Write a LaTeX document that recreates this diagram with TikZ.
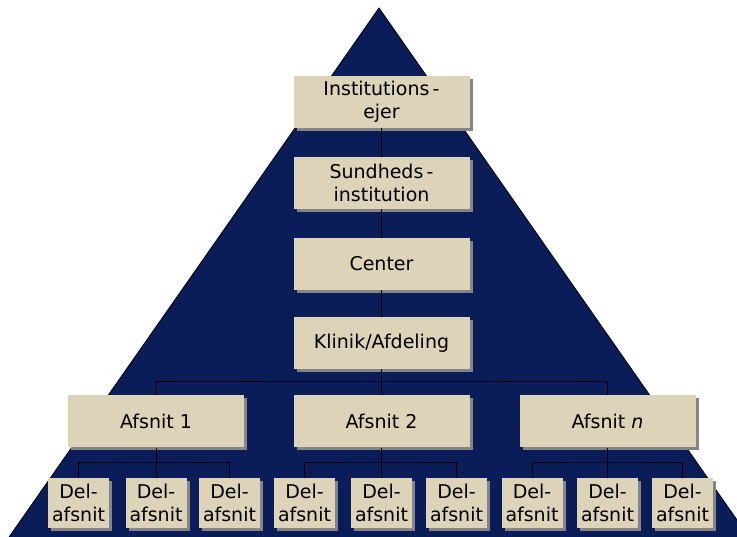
\documentclass[tikz,border=0pt]{standalone}
\usepackage{fontspec}
\setmainfont{DejaVu Sans}
\usetikzlibrary{shadows}
\definecolor{navy}{HTML}{0A1D59}
\definecolor{tan}{HTML}{DCD3B8}
\definecolor{shade}{HTML}{858585}
\tikzset{
  card/.style={fill=tan, draw=none, inner sep=0pt, align=center,
    font=\fontsize{19}{23}\selectfont,
    drop shadow={shadow xshift=3pt, shadow yshift=-3pt, fill=shade, opacity=1}},
  wide/.style={card, minimum width=176pt, minimum height=52pt},
  small/.style={card, minimum width=61pt, minimum height=50pt},
  link/.style={draw=black, line width=1pt}
}
\begin{document}
\begin{tikzpicture}[x=1pt,y=-1pt]
\useasboundingbox (0,0) rectangle (737,537);
% pyramid background
\begin{scope}
  \clip (0,0) rectangle (737,537);
  \fill[white] (0,0) rectangle (737,537);
  \draw[fill=navy, draw=black, line width=0.8pt] (379,8) -- (765,560) -- (-7,560) -- cycle;
\end{scope}

% main column
\node[wide] (owner) at (381.5,102) {Institutions\,-\\ejer};
\node[wide] (inst)  at (381.5,183) {Sundheds\,-\\institution};
\node[wide] (center) at (381.5,264) {Center};
\node[wide] (clinic) at (381.5,343) {Klinik/Afdeling};

% sections
\node[wide] (s1) at (156,421.5) {Afsnit 1};
\node[wide] (s2) at (381.5,421.5) {Afsnit 2};
\node[wide] (sn) at (607.5,421.5) {Afsnit \textit{n}};

% subsections
\foreach \nm/\xx in {a1/78.5, a2/156, a3/229.5, b1/304.5, b2/381.5, b3/456.5, c1/532, c2/607.5, c3/682.5}
  \node[small] (\nm) at (\xx,503) {Del-\\afsnit};

% connectors
\draw[link] (owner) -- (inst);
\draw[link] (inst) -- (center);
\draw[link] (center) -- (clinic);
\coordinate (hub) at (clinic.south |- 0,382);
\draw[link] (clinic.south) -- (hub);
\draw[link] (s1.north) |- (hub) -| (sn.north);
\draw[link] (hub) -- (s2.north);

\coordinate (h1) at (s1.south |- 0,463);
\coordinate (h2) at (s2.south |- 0,463);
\coordinate (h3) at (sn.south |- 0,463);
\draw[link] (s1.south) -- (a2.north);
\draw[link] (a1.north) |- (h1) -| (a3.north);
\draw[link] (s2.south) -- (b2.north);
\draw[link] (b1.north) |- (h2) -| (b3.north);
\draw[link] (sn.south) -- (c2.north);
\draw[link] (c1.north) |- (h3) -| (c3.north);
\end{tikzpicture}
\end{document}
